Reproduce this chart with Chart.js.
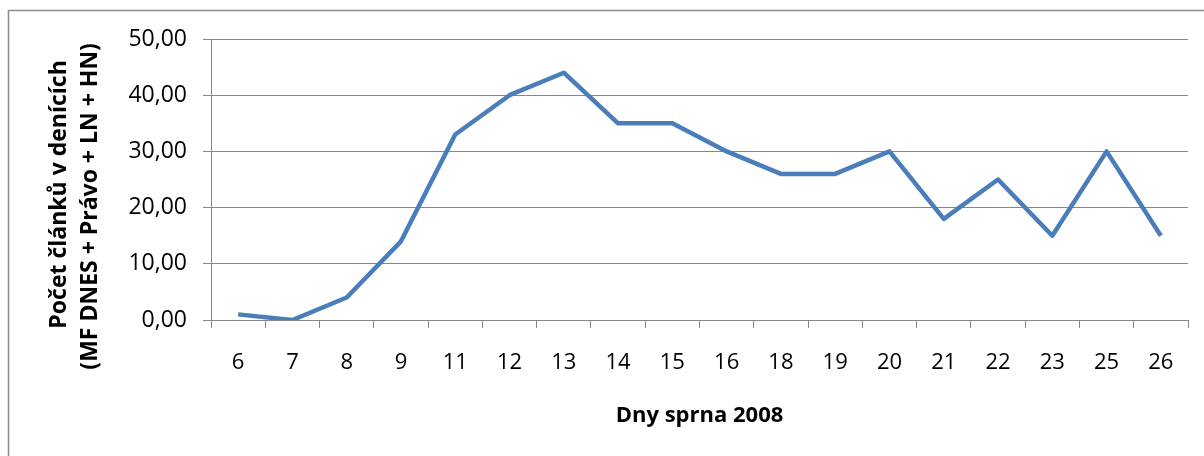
<!DOCTYPE html>
<html>
<head>
<meta charset="utf-8">
<script src="https://cdn.jsdelivr.net/npm/chart.js@4/dist/chart.umd.min.js"></script>
<style>
  body { margin: 0; background: #fff; }
  canvas { display: block; }
</style>
</head>
<body>
<canvas id="lineVis" width="1204" height="456"></canvas>
<script>
// days of August 2008 and article counts
const days = ['6', '7', '8', '9', '11', '12', '13', '14', '15', '16', '18', '19', '20', '21', '22', '23', '25', '26']
const counts = [1, 0, 4, 14, 33, 40, 44, 35, 35, 30, 26, 26, 30, 18, 25, 15, 30, 15]
// trailing nbsp push the rotated lines a bit lower, as in the excel original
const yTitle = ['Počet článků v denících\u00a0\u00a0\u00a0\u00a0\u00a0', '(MF DNES + Právo + LN + HN)\u00a0\u00a0\u00a0\u00a0\u00a0\u00a0\u00a0\u00a0\u00a0']
const xTitle = 'Dny sprna 2008'

const gridGray = '#878787'

// outer frame like the excel chart area
const framePlugin = {
  id: 'frame',
  beforeDraw(chart) {
    let ctx = chart.ctx
    ctx.save()
    ctx.fillStyle = '#fff'
    ctx.fillRect(0, 0, chart.width, chart.height)
    ctx.strokeStyle = '#8c8c8c'
    ctx.lineWidth = 1.5
    ctx.strokeRect(8.5, 10.5, 1400, 600)
    ctx.restore()
  }
}

new Chart(document.getElementById('lineVis'), {
  type: 'line',
  plugins: [framePlugin],
  data: {
    labels: days,
    datasets: [{
      label: 'Počet článků',
      data: counts,
      borderColor: '#4a7ebb',
      borderWidth: 4.5,
      pointRadius: 0,
      tension: 0,
      borderJoinStyle: 'round'
    }]
  },
  options: {
    responsive: false,
    animation: false,
    layout: { padding: { top: 39, right: 16, left: 0, bottom: 0 } },
    plugins: { legend: { display: false }, tooltip: { enabled: false } },
    scales: {
      x: {
        offset: true,
        afterFit: s => { s.height = 136 },
        grid: { offset: true, drawOnChartArea: false, color: gridGray, tickLength: 8 },
        border: { color: gridGray },
        ticks: {
          color: '#000', padding: 22, autoSkip: false, maxRotation: 0,
          font: { family: 'Open Sans', size: 22 }
        },
        title: {
          display: true, text: xTitle, color: '#000',
          font: { family: 'Open Sans', size: 22, weight: 'bold' },
          padding: { top: 0, bottom: 27 }
        }
      },
      y: {
        min: 0, max: 50,
        afterFit: s => { s.width = 211 },
        grid: { color: gridGray, tickLength: 8 },
        border: { color: gridGray },
        ticks: {
          stepSize: 10, color: '#000', padding: 16,
          font: { family: 'Open Sans', size: 23 },
          callback: v => v.toFixed(2).replace('.', ',')
        },
        title: {
          display: true, text: yTitle, color: '#000',
          font: { family: 'Open Sans', size: 23, weight: 'bold', lineHeight: 1.35 },
          padding: { top: 44, bottom: 0 }
        }
      }
    }
  }
})
</script>
</body>
</html>
